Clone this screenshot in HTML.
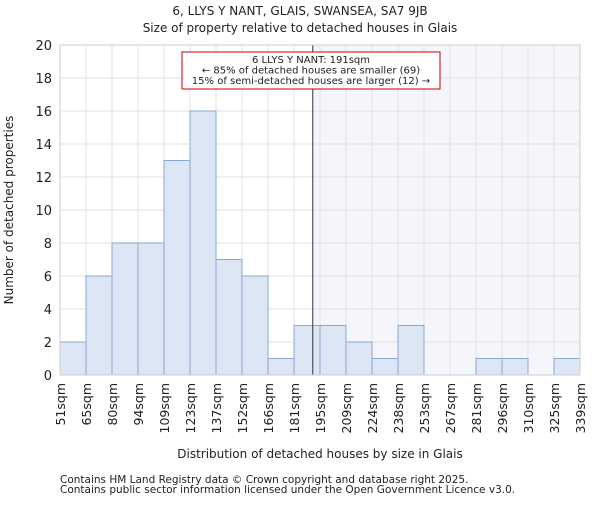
<!DOCTYPE html>
<html><head><meta charset="utf-8"><style>body{margin:0;background:#fff}svg text{font-family:"DejaVu Sans","Liberation Sans",sans-serif;fill:#222}</style></head>
<body>
<svg id="c" width="600" height="500" xmlns="http://www.w3.org/2000/svg"></svg>
<script>
const categories=["51sqm","65sqm","80sqm","94sqm","109sqm","123sqm","137sqm","152sqm","166sqm","181sqm","195sqm","209sqm","224sqm","238sqm","253sqm","267sqm","281sqm","296sqm","310sqm","325sqm","339sqm"];
const counts=[2,6,8,8,13,16,7,6,1,3,3,2,1,3,0,0,1,1,0,1];
const yTicks=[0,2,4,6,8,10,12,14,16,18,20];
const binStart=51, binWidth=14.4, marker=191;
const X0=60,X1=580,Y0=375,Y1=45;
const svg=document.getElementById('c');const NS='http://www.w3.org/2000/svg';
function el(t,a,p){const e=document.createElementNS(NS,t);for(const k in a)e.setAttribute(k,a[k]);(p||svg).appendChild(e);return e;}
const bw=(X1-X0)/counts.length;
const xs=i=>X0+i*bw;
const ys=v=>Y0-(v/20)*(Y0-Y1);
const xv=v=>X0+(v-binStart)/binWidth*bw;
let t;
t=el('text',{x:300,y:15,'text-anchor':'middle','font-size':12});t.textContent='6, LLYS Y NANT, GLAIS, SWANSEA, SA7 9JB';

t=el('text',{x:300,y:32,'text-anchor':'middle','font-size':12});t.textContent='Size of property relative to detached houses in Glais';

const mx=xv(marker);
let r=el('rect',{x:mx,y:Y1,width:X1-mx,height:Y0-Y1,fill:'#f4f6fc'});

yTicks.forEach(v=>{let l=el('line',{x1:X0,x2:X1,y1:ys(v),y2:ys(v),stroke:'#e2e2e2'});

let tx=el('text',{x:X0-8,y:ys(v)+5,'text-anchor':'end','font-size':13});tx.textContent=v;
});
categories.forEach((c,i)=>{let l=el('line',{x1:xs(i),x2:xs(i),y1:Y1,y2:Y0,stroke:'#e2e2e2'});

let tx=el('text',{x:0,y:0,'text-anchor':'end','font-size':12.5,transform:`translate(${xs(i)+5},${Y0+8}) rotate(-90)`});tx.textContent=c;
});
counts.forEach((v,i)=>{if(!v)return;let b=el('rect',{x:xs(i),y:ys(v),width:bw,height:Y0-ys(v),fill:'#dce6f4',stroke:'#8aa8d0','stroke-width':1});
});
let ml=el('line',{x1:mx,x2:mx,y1:Y1,y2:Y0,stroke:'#334',"stroke-width":1});

let ax=el('rect',{x:X0,y:Y1,width:X1-X0,height:Y0-Y1,fill:'none',stroke:'#ccc'});

let g=el('g',{});
el('rect',{x:182,y:52,width:258,height:37,fill:'#fff',stroke:'#c00','stroke-width':1},g);
['6 LLYS Y NANT: 191sqm','← 85% of detached houses are smaller (69)','15% of semi-detached houses are larger (12) →'].forEach((s,i)=>{
let tx=el('text',{x:311,y:63+i*10.5,'text-anchor':'middle','font-size':10},g);tx.textContent=s;});
t=el('text',{x:320,y:458,'text-anchor':'middle','font-size':12});t.textContent='Distribution of detached houses by size in Glais';

t=el('text',{x:0,y:0,'text-anchor':'middle','font-size':12,transform:'translate(13,210) rotate(-90)'});t.textContent='Number of detached properties';

['Contains HM Land Registry data © Crown copyright and database right 2025.','Contains public sector information licensed under the Open Government Licence v3.0.'].forEach((s,i)=>{
let tx=el('text',{x:60,y:483+i*10,'font-size':10.5,fill:'#333'});tx.textContent=s;
});
</script>
</body></html>
